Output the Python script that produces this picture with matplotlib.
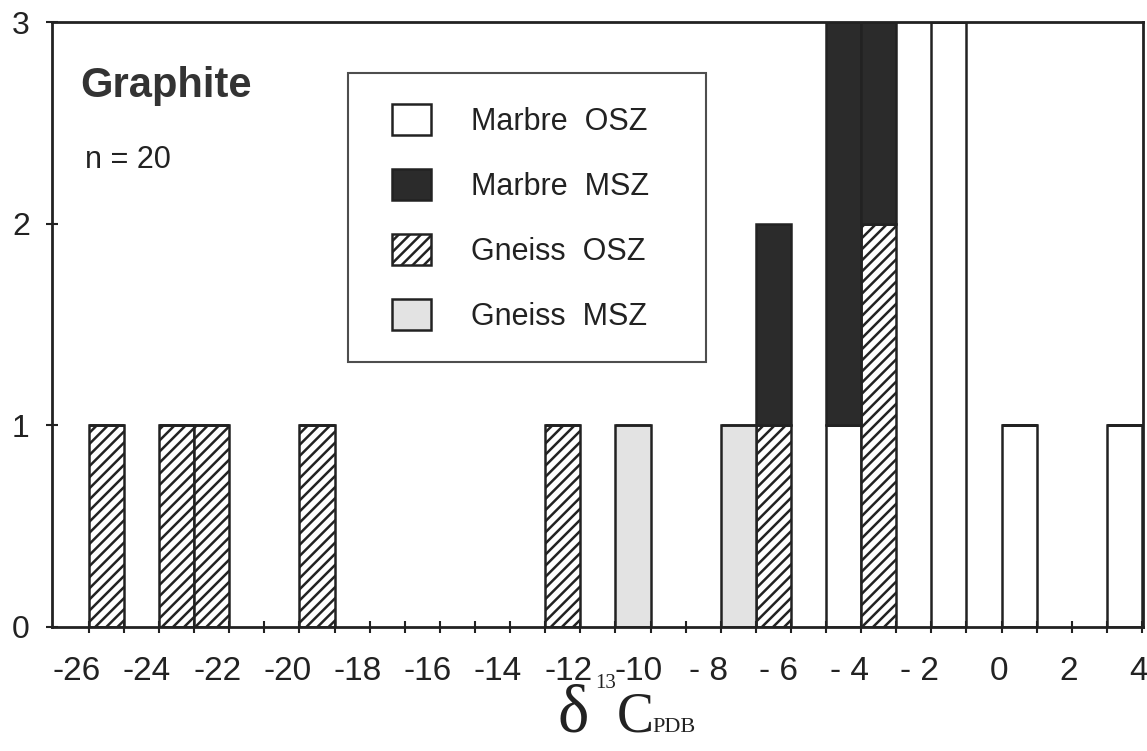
import matplotlib
matplotlib.use('Agg')
import matplotlib.pyplot as plt
import matplotlib.patches as mpatches
import matplotlib.transforms as mtransforms
from matplotlib.container import BarContainer
from matplotlib.legend_handler import HandlerPatch
import numpy as np

# histogram of delta13C of graphite, bins of 1 permil (left edges)
bin_left = [-26, -24, -23, -20, -13, -11, -8, -7, -5, -4, -2, 0, 3]
marbre_osz = [0, 0, 0, 0, 0, 0, 0, 0, 1, 0, 3, 1, 1]
gneiss_osz = [1, 1, 1, 1, 1, 0, 0, 1, 0, 2, 0, 0, 0]
gneiss_msz = [0, 0, 0, 0, 0, 1, 1, 0, 0, 0, 0, 0, 0]
marbre_msz = [0, 0, 0, 0, 0, 0, 0, 1, 2, 1, 0, 0, 0]

labels = ['Marbre  OSZ', 'Marbre  MSZ', 'Gneiss  OSZ', 'Gneiss  MSZ']
xticks_lab = [-26, -24, -22, -20, -18, -16, -14, -12, -10, -8, -6, -4, -2, 0, 2, 4]

W, H = 1147, 751
plt.rcParams['font.family'] = ['Liberation Sans', 'DejaVu Sans']
plt.rcParams['hatch.linewidth'] = 1.8

fig = plt.figure(figsize=(W / 100, H / 100), dpi=100)
ax = fig.add_axes([52 / W, 1 - 627 / H, (1143 - 52) / W, (627 - 22) / H])

ink = '#222222'
lw = 1.8
x = np.array(bin_left, dtype=float)
b0 = np.zeros(len(x))
series = [
    (marbre_osz, dict(facecolor='white')),
    (gneiss_osz, dict(facecolor='white', hatch='///')),
    (gneiss_msz, dict(facecolor='#e3e3e3')),
    (marbre_msz, dict(facecolor='#2b2b2b')),
]
handles = []
for vals, st in series:
    v = np.array(vals, dtype=float)
    bars = ax.bar(x, v, width=1.0, bottom=b0, align='edge',
                  edgecolor=ink, linewidth=lw, **st)
    handles.append(bars)
    b0 = b0 + v

ax.set_xlim(-27.05, 4.03)
ax.set_ylim(0, 3)


def fmt(v):
    if v <= -10:
        return '-%d' % -v
    if v < 0:
        return '- %d' % -v
    return '%d' % v


ax.set_xticks(xticks_lab)
ax.set_xticklabels([fmt(v) for v in xticks_lab])
ax.set_xticks(np.arange(-25, 4, 2), minor=True)
ax.tick_params(axis='x', which='both', direction='inout', length=8, width=1.5, color=ink)
ax.tick_params(axis='x', which='major', pad=17, labelsize=24, labelcolor=ink)
ax.set_yticks([0, 1, 2, 3])
ax.tick_params(axis='y', direction='inout', length=8, width=1.5, color=ink,
               pad=12, labelsize=23, labelcolor=ink)
for s in ax.spines.values():
    s.set_linewidth(2.0)
    s.set_color(ink)

# the original labels sit a little left of their ticks
for v, lab in zip(xticks_lab, ax.get_xticklabels()):
    dx = -12 if v < 0 else -3
    lab.set_transform(lab.get_transform() +
                      mtransforms.ScaledTranslation(dx / 100, 0, fig.dpi_scale_trans))


def shifted_box(legend, orig_handle, xdescent, ydescent, width, height, fontsize):
    return mpatches.Rectangle((-xdescent + 10, -ydescent), width, height)


def first_child(tgt, src):
    tgt.update_from(src[0])


# legend, order as in the original
order = [handles[0], handles[3], handles[1], handles[2]]
leg = ax.legend(order, [l + '   ' for l in labels], loc='upper left',
                bbox_to_anchor=((348 - 52) / 1091, (627 - 73) / 605),
                fontsize=22, frameon=True, fancybox=False, edgecolor=ink,
                handlelength=1.27, handleheight=1.2, labelspacing=1.05,
                handletextpad=1.77, borderpad=1.0, borderaxespad=0,
                handler_map={BarContainer: HandlerPatch(patch_func=shifted_box,
                                                        update_func=first_child)})
leg.get_frame().set_linewidth(1.5)
for t in leg.get_texts():
    t.set_color(ink)

fig.text(80 / W, 1 - 97 / H, 'Graphite', fontsize=30, fontweight='bold',
         color='#333333', va='baseline')
fig.text(85 / W, 1 - 168 / H, 'n = 20', fontsize=22, color=ink, va='baseline')

# x label: delta 13 C PDB
serif = 'Liberation Serif'
fig.text(558 / W, 1 - 732 / H, '\u03b4', family=serif, fontsize=48, va='baseline', color=ink)
fig.text(595 / W, 1 - 688 / H, '13', family=serif, fontsize=15, va='baseline', color=ink)
fig.text(617 / W, 1 - 731 / H, 'C', family=serif, fontsize=40, va='baseline', color=ink)
fig.text(652 / W, 1 - 732 / H, 'PDB', family=serif, fontsize=16, va='baseline', color=ink)

fig.savefig('out.png', dpi=100)
